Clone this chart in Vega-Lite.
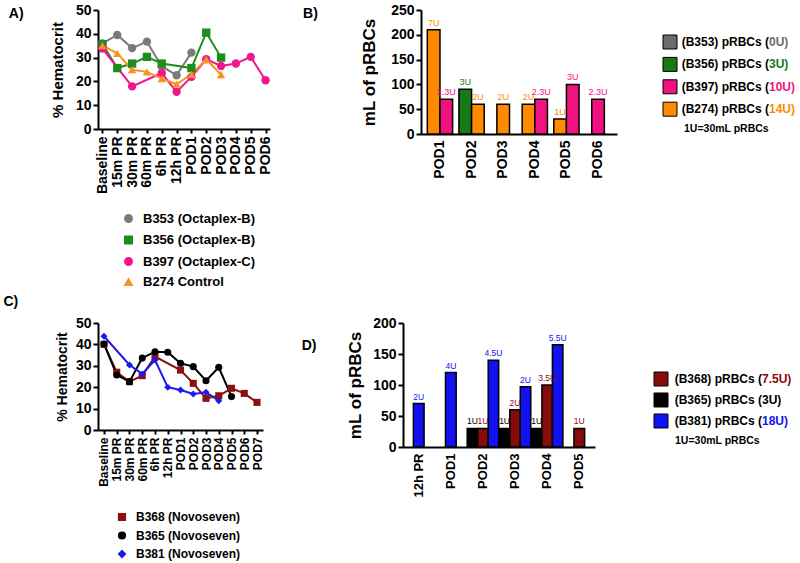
{
  "$schema": "https://vega.github.io/schema/vega-lite/v6.json",
  "background": "white",
  "padding": {"left": 3, "top": 3, "right": 2, "bottom": 0},
  "config": {
    "font": "Liberation Sans",
    "view": {"stroke": null},
    "axis": {"grid": false, "domainColor": "black", "tickColor": "black", "labelColor": "black", "titleColor": "black", "labelFontWeight": "bold", "titleFontWeight": "bold", "domainWidth": 2, "tickWidth": 2, "tickSize": 5, "labelPadding": 2},
    "title": {"fontWeight": "bold", "color": "black"},
    "legend": {"labelColor": "black"}
  },
  "datasets": {
    "hctA": [
      {"patient": "B353 (Octaplex-B)", "time": "Baseline", "hct": 36},
      {"patient": "B353 (Octaplex-B)", "time": "15m PR", "hct": 39.5},
      {"patient": "B353 (Octaplex-B)", "time": "30m PR", "hct": 34},
      {"patient": "B353 (Octaplex-B)", "time": "60m PR", "hct": 36.7},
      {"patient": "B353 (Octaplex-B)", "time": "6h PR", "hct": 26.3},
      {"patient": "B353 (Octaplex-B)", "time": "12h PR", "hct": 22.6},
      {"patient": "B353 (Octaplex-B)", "time": "POD1", "hct": 32.1},
      {"patient": "B356 (Octaplex-B)", "time": "Baseline", "hct": 35.6},
      {"patient": "B356 (Octaplex-B)", "time": "15m PR", "hct": 25.6},
      {"patient": "B356 (Octaplex-B)", "time": "30m PR", "hct": 27.5},
      {"patient": "B356 (Octaplex-B)", "time": "60m PR", "hct": 30.3},
      {"patient": "B356 (Octaplex-B)", "time": "6h PR", "hct": 27.5},
      {"patient": "B356 (Octaplex-B)", "time": "POD1", "hct": 25.6},
      {"patient": "B356 (Octaplex-B)", "time": "POD2", "hct": 40.5},
      {"patient": "B356 (Octaplex-B)", "time": "POD3", "hct": 30},
      {"patient": "B397 (Octaplex-C)", "time": "Baseline", "hct": 33.8},
      {"patient": "B397 (Octaplex-C)", "time": "30m PR", "hct": 17.9},
      {"patient": "B397 (Octaplex-C)", "time": "6h PR", "hct": 23.5},
      {"patient": "B397 (Octaplex-C)", "time": "12h PR", "hct": 15.6},
      {"patient": "B397 (Octaplex-C)", "time": "POD1", "hct": 21.9},
      {"patient": "B397 (Octaplex-C)", "time": "POD2", "hct": 29.3},
      {"patient": "B397 (Octaplex-C)", "time": "POD3", "hct": 26.5},
      {"patient": "B397 (Octaplex-C)", "time": "POD4", "hct": 27.5},
      {"patient": "B397 (Octaplex-C)", "time": "POD5", "hct": 30.3},
      {"patient": "B397 (Octaplex-C)", "time": "POD6", "hct": 20.5},
      {"patient": "B274 Control", "time": "Baseline", "hct": 35},
      {"patient": "B274 Control", "time": "15m PR", "hct": 31.8},
      {"patient": "B274 Control", "time": "30m PR", "hct": 24.9},
      {"patient": "B274 Control", "time": "60m PR", "hct": 24},
      {"patient": "B274 Control", "time": "6h PR", "hct": 21.2},
      {"patient": "B274 Control", "time": "12h PR", "hct": 18.9},
      {"patient": "B274 Control", "time": "POD1", "hct": 23},
      {"patient": "B274 Control", "time": "POD2", "hct": 29.3},
      {"patient": "B274 Control", "time": "POD3", "hct": 22.8}
    ],
    "hctC": [
      {"patient": "B368 (Novoseven)", "time": "Baseline", "hct": 40},
      {"patient": "B368 (Novoseven)", "time": "15m PR", "hct": 27},
      {"patient": "B368 (Novoseven)", "time": "30m PR", "hct": 22.6},
      {"patient": "B368 (Novoseven)", "time": "60m PR", "hct": 25.4},
      {"patient": "B368 (Novoseven)", "time": "6h PR", "hct": 34.3},
      {"patient": "B368 (Novoseven)", "time": "POD1", "hct": 28},
      {"patient": "B368 (Novoseven)", "time": "POD2", "hct": 21.8},
      {"patient": "B368 (Novoseven)", "time": "POD3", "hct": 14.8},
      {"patient": "B368 (Novoseven)", "time": "POD4", "hct": 16},
      {"patient": "B368 (Novoseven)", "time": "POD5", "hct": 19.5},
      {"patient": "B368 (Novoseven)", "time": "POD6", "hct": 17.1},
      {"patient": "B368 (Novoseven)", "time": "POD7", "hct": 12.9},
      {"patient": "B365 (Novoseven)", "time": "Baseline", "hct": 40.2},
      {"patient": "B365 (Novoseven)", "time": "15m PR", "hct": 25.7},
      {"patient": "B365 (Novoseven)", "time": "30m PR", "hct": 22.6},
      {"patient": "B365 (Novoseven)", "time": "60m PR", "hct": 33.6},
      {"patient": "B365 (Novoseven)", "time": "6h PR", "hct": 36.6},
      {"patient": "B365 (Novoseven)", "time": "12h PR", "hct": 36.3},
      {"patient": "B365 (Novoseven)", "time": "POD1", "hct": 31.2},
      {"patient": "B365 (Novoseven)", "time": "POD2", "hct": 29.6},
      {"patient": "B365 (Novoseven)", "time": "POD3", "hct": 23},
      {"patient": "B365 (Novoseven)", "time": "POD4", "hct": 29.3},
      {"patient": "B365 (Novoseven)", "time": "POD5", "hct": 15.6},
      {"patient": "B381 (Novoseven)", "time": "Baseline", "hct": 43.8},
      {"patient": "B381 (Novoseven)", "time": "30m PR", "hct": 30.4},
      {"patient": "B381 (Novoseven)", "time": "60m PR", "hct": 26.2},
      {"patient": "B381 (Novoseven)", "time": "6h PR", "hct": 32.7},
      {"patient": "B381 (Novoseven)", "time": "12h PR", "hct": 20},
      {"patient": "B381 (Novoseven)", "time": "POD1", "hct": 18.7},
      {"patient": "B381 (Novoseven)", "time": "POD2", "hct": 16.8},
      {"patient": "B381 (Novoseven)", "time": "POD3", "hct": 17.6},
      {"patient": "B381 (Novoseven)", "time": "POD4", "hct": 13.7}
    ],
    "bloodB": [
      {"day": "POD1", "patient": "B274", "mL": 210, "units": "7U"},
      {"day": "POD1", "patient": "B397", "mL": 70, "units": "2.3U"},
      {"day": "POD2", "patient": "B356", "mL": 90, "units": "3U"},
      {"day": "POD2", "patient": "B274", "mL": 60, "units": "2U"},
      {"day": "POD3", "patient": "B274", "mL": 60, "units": "2U"},
      {"day": "POD4", "patient": "B274", "mL": 60, "units": "2U"},
      {"day": "POD4", "patient": "B397", "mL": 70, "units": "2.3U"},
      {"day": "POD5", "patient": "B274", "mL": 30, "units": "1U"},
      {"day": "POD5", "patient": "B397", "mL": 100, "units": "3U"},
      {"day": "POD6", "patient": "B397", "mL": 70, "units": "2.3U"}
    ],
    "bloodD": [
      {"day": "12h PR", "patient": "B381", "mL": 70, "units": "2U"},
      {"day": "POD1", "patient": "B381", "mL": 120, "units": "4U"},
      {"day": "POD2", "patient": "B365", "mL": 30, "units": "1U"},
      {"day": "POD2", "patient": "B368", "mL": 30, "units": "1U"},
      {"day": "POD2", "patient": "B381", "mL": 140, "units": "4.5U"},
      {"day": "POD3", "patient": "B365", "mL": 30, "units": "1U"},
      {"day": "POD3", "patient": "B368", "mL": 60, "units": "2U"},
      {"day": "POD3", "patient": "B381", "mL": 97, "units": "2U"},
      {"day": "POD4", "patient": "B365", "mL": 30, "units": "1U"},
      {"day": "POD4", "patient": "B368", "mL": 100, "units": "3.5U"},
      {"day": "POD4", "patient": "B381", "mL": 165, "units": "5.5U"},
      {"day": "POD5", "patient": "B368", "mL": 30, "units": "1U"}
    ],
    "legB": [
      {"patient": "B353", "prefix": "(B353) pRBCs (", "tail": "0U)"},
      {"patient": "B356", "prefix": "(B356) pRBCs (", "tail": "3U)"},
      {"patient": "B397", "prefix": "(B397) pRBCs (", "tail": "10U)"},
      {"patient": "B274", "prefix": "(B274) pRBCs (", "tail": "14U)"}
    ],
    "legD": [
      {"patient": "B368", "prefix": "(B368) pRBCs (", "tail": "7.5U)"},
      {"patient": "B365", "prefix": "(B365) pRBCs (", "tail": "3U)"},
      {"patient": "B381", "prefix": "(B381) pRBCs (", "tail": "18U)"}
    ]
  },
  "resolve": {"scale": {"color": "independent", "shape": "independent", "xOffset": "independent"}, "legend": {"color": "independent", "shape": "independent"}},
  "columns": 1,
  "align": "none",
  "spacing": 6,
  "concat": [
    {
      "resolve": {"scale": {"color": "independent", "shape": "independent", "xOffset": "independent"}, "legend": {"color": "independent", "shape": "independent"}},
      "spacing": 30,
      "hconcat": [
        {
          "title": {"text": "A)", "orient": "left", "angle": 0, "anchor": "end", "frame": "bounds", "align": "right", "baseline": "top", "offset": 12, "dy": 4, "fontSize": 14},
          "width": 172,
          "height": 119,
          "data": {"name": "hctA"},
          "mark": {"type": "line", "strokeWidth": 2, "point": {"filled": true, "size": 70, "opacity": 1}},
          "encoding": {
            "x": {"field": "time", "type": "ordinal", "scale": {"type": "point", "domain": ["Baseline", "15m PR", "30m PR", "60m PR", "6h PR", "12h PR", "POD1", "POD2", "POD3", "POD4", "POD5", "POD6"], "padding": 0.3},
              "axis": {"title": null, "labelAngle": -90, "labelFontSize": 14, "tickSize": 4, "labelPadding": 3}},
            "y": {"field": "hct", "type": "quantitative", "scale": {"domain": [0, 50]},
              "axis": {"values": [0, 10, 20, 30, 40, 50], "title": "% Hematocrit", "titleFontSize": 15, "labelFontSize": 14, "titlePadding": 10}},
            "color": {"field": "patient", "type": "nominal",
              "scale": {"domain": ["B353 (Octaplex-B)", "B356 (Octaplex-B)", "B397 (Octaplex-C)", "B274 Control"], "range": ["#7a7a7a", "#1e8c1e", "#f0168c", "#f7931e"]},
              "legend": {"title": null, "orient": "none", "legendX": 24, "legendY": 202, "direction": "vertical", "labelFontSize": 13, "labelFontWeight": "bold", "symbolSize": 55, "rowPadding": 6.5, "padding": 0, "labelOffset": 8}},
            "shape": {"field": "patient", "type": "nominal",
              "scale": {"domain": ["B353 (Octaplex-B)", "B356 (Octaplex-B)", "B397 (Octaplex-C)", "B274 Control"], "range": ["circle", "square", "circle", "triangle-up"]},
              "legend": {"title": null, "orient": "none", "legendX": 24, "legendY": 202, "direction": "vertical", "labelFontSize": 13, "labelFontWeight": "bold", "symbolSize": 55, "rowPadding": 6.5, "padding": 0, "labelOffset": 8}}
          }
        },
        {
          "resolve": {"scale": {"color": "independent", "shape": "independent", "xOffset": "independent"}, "legend": {"color": "independent", "shape": "independent"}},
          "spacing": 44,
          "hconcat": [
            {
              "title": {"text": "B)", "orient": "left", "angle": 0, "anchor": "end", "frame": "bounds", "align": "right", "baseline": "top", "offset": 28, "dy": 4, "fontSize": 14},
              "width": 196,
              "height": 124,
              "data": {"name": "bloodB"},
              "transform": [
                {"window": [{"op": "row_number", "as": "slot"}], "groupby": ["day"]},
                {"joinaggregate": [{"op": "count", "as": "n"}], "groupby": ["day"]}
              ],
              "encoding": {
                "x": {"field": "day", "type": "nominal", "scale": {"domain": ["POD1", "POD2", "POD3", "POD4", "POD5", "POD6"], "paddingInner": 0.2, "paddingOuter": 0.2},
                  "axis": {"title": null, "labelAngle": -90, "labelFontSize": 14, "ticks": false, "labelPadding": 6}},
                "y": {"field": "mL", "type": "quantitative", "scale": {"domain": [0, 250]},
                  "axis": {"values": [0, 50, 100, 150, 200, 250], "title": "mL of pRBCs", "titleFontSize": 17, "labelFontSize": 14, "titlePadding": 12}},
                "color": {"field": "patient", "type": "nominal", "scale": {"domain": ["B353", "B356", "B397", "B274"], "range": ["#6b6b6b", "#177a17", "#f0127f", "#ff8a00"]}, "legend": null}
              },
              "layer": [
                {"transform": [{"filter": "datum.n > 1"}], "mark": {"type": "bar", "stroke": "black", "strokeWidth": 1.5}, "encoding": {"xOffset": {"field": "slot", "type": "ordinal"}}},
                {"transform": [{"filter": "datum.n > 1"}], "mark": {"type": "text", "dy": -7, "fontSize": 9}, "encoding": {"xOffset": {"field": "slot", "type": "ordinal"}, "text": {"field": "units"}}},
                {"transform": [{"filter": "datum.n == 1"}], "mark": {"type": "bar", "stroke": "black", "strokeWidth": 1.5, "width": {"band": 0.5}}},
                {"transform": [{"filter": "datum.n == 1"}], "mark": {"type": "text", "dy": -7, "fontSize": 9}, "encoding": {"text": {"field": "units"}}}
              ]
            },
            {
              "width": 136,
              "height": 112,
              "data": {"name": "legB"},
              "title": {"text": "1U=30mL pRBCs", "orient": "bottom", "anchor": "start", "frame": "group", "fontSize": 10.5, "dx": 21, "offset": 2},
              "encoding": {
                "y": {"field": "patient", "type": "nominal", "scale": {"type": "point", "domain": ["B353", "B356", "B397", "B274"], "padding": 1, "align": 0.714}, "axis": null}
              },
              "layer": [
                {"mark": {"type": "square", "size": 196, "stroke": "black", "strokeWidth": 1, "opacity": 1},
                  "encoding": {"x": {"value": 7}, "color": {"field": "patient", "type": "nominal", "scale": {"domain": ["B353", "B356", "B397", "B274"], "range": ["#6b6b6b", "#177a17", "#f0127f", "#ff8a00"]}, "legend": null}}},
                {"mark": {"type": "text", "align": "right", "fontSize": 12, "fontWeight": "bold", "color": "black"},
                  "encoding": {"x": {"value": 106}, "text": {"field": "prefix"}}},
                {"mark": {"type": "text", "align": "left", "fontSize": 12, "fontWeight": "bold"},
                  "encoding": {"x": {"value": 106}, "text": {"field": "tail"}, "color": {"field": "patient", "type": "nominal", "scale": {"domain": ["B353", "B356", "B397", "B274"], "range": ["#8a8a8a", "#177a17", "#f0127f", "#ff8a00"]}, "legend": null}}}
              ]
            }
          ]
        }
      ]
    },
    {
      "resolve": {"scale": {"color": "independent", "shape": "independent", "xOffset": "independent"}, "legend": {"color": "independent", "shape": "independent"}},
      "spacing": 37,
      "hconcat": [
        {
          "title": {"text": "C)", "anchor": "start", "frame": "bounds", "fontSize": 14, "dx": -52, "dy": -3},
          "width": 165,
          "height": 107,
          "data": {"name": "hctC"},
          "mark": {"type": "line", "strokeWidth": 2, "point": {"filled": true, "size": 50, "opacity": 1}},
          "encoding": {
            "x": {"field": "time", "type": "ordinal", "scale": {"type": "point", "domain": ["Baseline", "15m PR", "30m PR", "60m PR", "6h PR", "12h PR", "POD1", "POD2", "POD3", "POD4", "POD5", "POD6", "POD7"], "padding": 0.47},
              "axis": {"title": null, "labelAngle": -90, "labelFontSize": 12, "tickSize": 4, "labelPadding": 3}},
            "y": {"field": "hct", "type": "quantitative", "scale": {"domain": [0, 50]},
              "axis": {"values": [0, 10, 20, 30, 40, 50], "title": "% Hematocrit", "titleFontSize": 14, "labelFontSize": 14, "titlePadding": 6}},
            "color": {"field": "patient", "type": "nominal",
              "scale": {"domain": ["B368 (Novoseven)", "B365 (Novoseven)", "B381 (Novoseven)"], "range": ["#8b1010", "#000000", "#1a1aee"]},
              "legend": {"title": null, "orient": "none", "legendX": 18, "legendY": 188, "direction": "vertical", "labelFontSize": 12, "labelFontWeight": "bold", "symbolSize": 45, "rowPadding": 4.5, "padding": 0, "labelOffset": 8}},
            "shape": {"field": "patient", "type": "nominal",
              "scale": {"domain": ["B368 (Novoseven)", "B365 (Novoseven)", "B381 (Novoseven)"], "range": ["square", "circle", "diamond"]},
              "legend": {"title": null, "orient": "none", "legendX": 18, "legendY": 188, "direction": "vertical", "labelFontSize": 12, "labelFontWeight": "bold", "symbolSize": 45, "rowPadding": 4.5, "padding": 0, "labelOffset": 8}}
          }
        },
        {
          "resolve": {"scale": {"color": "independent", "shape": "independent", "xOffset": "independent"}, "legend": {"color": "independent", "shape": "independent"}},
          "spacing": 57,
          "hconcat": [
            {
              "title": {"text": "D)", "anchor": "start", "frame": "bounds", "fontSize": 14, "dx": -45, "dy": 41},
              "width": 192,
              "height": 124,
              "data": {"name": "bloodD"},
              "transform": [
                {"window": [{"op": "row_number", "as": "slot"}], "groupby": ["day"]},
                {"joinaggregate": [{"op": "count", "as": "n"}], "groupby": ["day"]}
              ],
              "encoding": {
                "x": {"field": "day", "type": "nominal", "scale": {"domain": ["12h PR", "POD1", "POD2", "POD3", "POD4", "POD5"], "paddingInner": 0.02, "paddingOuter": 0},
                  "axis": {"title": null, "labelAngle": -90, "labelFontSize": 13, "ticks": false, "labelPadding": 6}},
                "y": {"field": "mL", "type": "quantitative", "scale": {"domain": [0, 200]},
                  "axis": {"values": [0, 50, 100, 150, 200], "title": "mL of pRBCs", "titleFontSize": 17, "labelFontSize": 14, "titlePadding": 8}},
                "color": {"field": "patient", "type": "nominal", "scale": {"domain": ["B368", "B365", "B381"], "range": ["#860b0b", "#000000", "#1212f0"]}, "legend": null}
              },
              "layer": [
                {"transform": [{"filter": "datum.n > 1"}], "mark": {"type": "bar", "stroke": "black", "strokeWidth": 1.5}, "encoding": {"xOffset": {"field": "slot", "type": "ordinal"}}},
                {"transform": [{"filter": "datum.n > 1"}], "mark": {"type": "text", "dy": -7, "fontSize": 8.5}, "encoding": {"xOffset": {"field": "slot", "type": "ordinal"}, "text": {"field": "units"}}},
                {"transform": [{"filter": "datum.n == 1"}], "mark": {"type": "bar", "stroke": "black", "strokeWidth": 1.5, "width": {"band": 0.34}}},
                {"transform": [{"filter": "datum.n == 1"}], "mark": {"type": "text", "dy": -7, "fontSize": 8.5}, "encoding": {"text": {"field": "units"}}}
              ]
            },
            {
              "width": 140,
              "height": 112,
              "data": {"name": "legD"},
              "title": {"text": "1U=30mL pRBCs", "orient": "bottom", "anchor": "start", "frame": "group", "fontSize": 10.5, "dx": 21, "offset": 1},
              "encoding": {
                "y": {"field": "patient", "type": "nominal", "scale": {"type": "point", "domain": [" ", "  ", "B368", "B365", "B381"], "padding": 0.667}, "axis": null}
              },
              "layer": [
                {"mark": {"type": "square", "size": 196, "stroke": "black", "strokeWidth": 1, "opacity": 1},
                  "encoding": {"x": {"value": 7}, "color": {"field": "patient", "type": "nominal", "scale": {"domain": ["B368", "B365", "B381"], "range": ["#860b0b", "#000000", "#1212f0"]}, "legend": null}}},
                {"mark": {"type": "text", "align": "right", "fontSize": 12, "fontWeight": "bold", "color": "black"},
                  "encoding": {"x": {"value": 108}, "text": {"field": "prefix"}}},
                {"mark": {"type": "text", "align": "left", "fontSize": 12, "fontWeight": "bold"},
                  "encoding": {"x": {"value": 108}, "text": {"field": "tail"}, "color": {"field": "patient", "type": "nominal", "scale": {"domain": ["B368", "B365", "B381"], "range": ["#860b0b", "#000000", "#1212f0"]}, "legend": null}}}
              ]
            }
          ]
        }
      ]
    }
  ]
}
